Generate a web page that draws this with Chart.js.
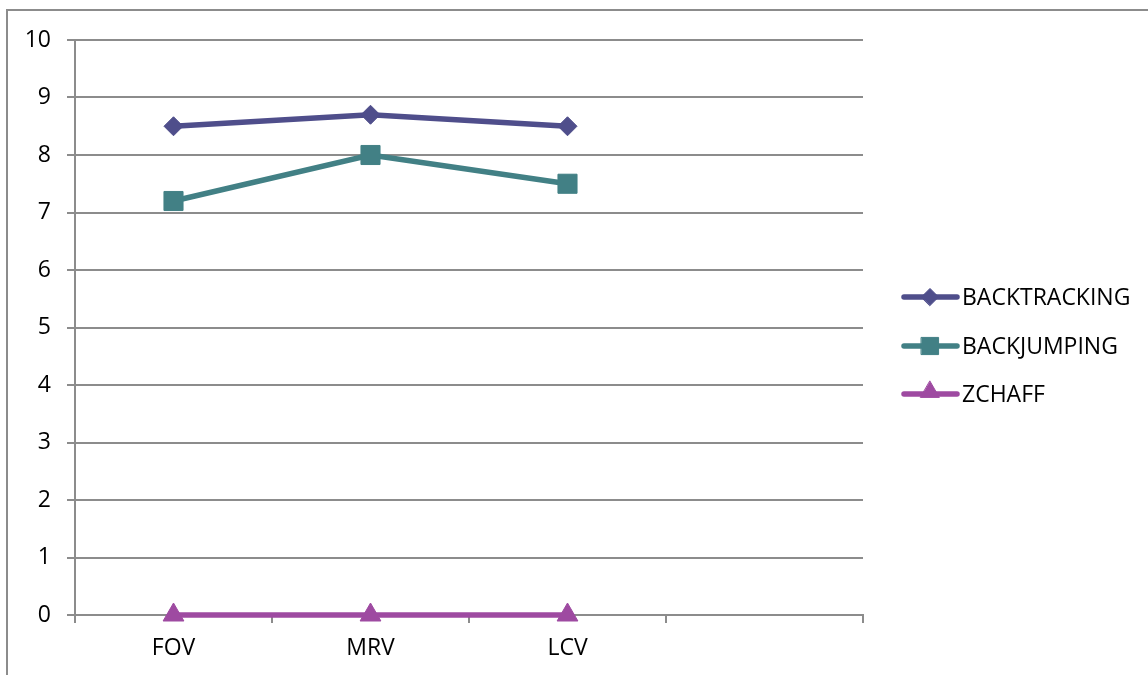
<!DOCTYPE html>
<html>
<head>
<meta charset="utf-8">
<style>
  html, body { margin: 0; padding: 0; background: #fff; }
  #wrap { width: 1148px; height: 675px; position: relative; }
</style>
<script src="https://cdn.jsdelivr.net/npm/chart.js"></script>
</head>
<body>
<div id="wrap"><canvas id="c" width="1148" height="675"></canvas></div>
<script>
// Categories (the fourth slot is an empty category on the axis)
const categories = ['FOV', 'MRV', 'LCV', ''];

// Series values
const backtracking = [8.5, 8.7, 8.5, null];
const backjumping = [7.2, 8.0, 7.5, null];
const zchaff = [0, 0, 0, null];

// Y axis ticks
const yMin = 0;
const yMax = 10;
const yStep = 1;

const FONT = '"Open Sans", "Noto Sans", sans-serif';
const FONT_SIZE = 23;
const GRID = '#8c8c8c';
const LINE_W = 5.5;

const seriesStyle = [
  { label: 'BACKTRACKING', data: backtracking, color: '#4f4e8b', pointStyle: 'rectRot', radius: 9.5 },
  { label: 'BACKJUMPING', data: backjumping, color: '#428085', pointStyle: 'rect', radius: 13.5 },
  { label: 'ZCHAFF', data: zchaff, color: '#9e4aa1', pointStyle: 'triangle', radius: 12 }
];

// Outer frame around the chart
const framePlugin = {
  id: 'frame',
  beforeDraw(chart) {
    const ctx = chart.ctx;
    ctx.save();
    ctx.fillStyle = '#fff';
    ctx.fillRect(0, 0, chart.width, chart.height);
    ctx.strokeStyle = '#8c8c8c';
    ctx.lineWidth = 2;
    ctx.strokeRect(7, 10, chart.width + 20, chart.height + 20);
    ctx.restore();
  }
};

// Legend on the right: a short line with the series marker, then the name
const sideLegend = {
  id: 'sideLegend',
  afterDraw(chart) {
    const ctx = chart.ctx;
    const x0 = 904, x1 = 957, xm = 930, xt = 962;
    const rows = [297, 346, 394];
    chart.data.datasets.forEach((ds, i) => {
      const y = rows[i];
      ctx.save();
      ctx.strokeStyle = ds.borderColor;
      ctx.fillStyle = ds.borderColor;
      ctx.lineWidth = LINE_W;
      ctx.lineCap = 'round';
      ctx.beginPath();
      ctx.moveTo(x0, y);
      ctx.lineTo(x1, y);
      ctx.stroke();
      ctx.lineWidth = 1;
      Chart.helpers.drawPoint(ctx, {
        pointStyle: ds.pointStyle,
        radius: ds.pointRadius * 0.9,
        rotation: 0,
        borderWidth: 1
      }, xm, ds.pointStyle === 'triangle' ? y - 2 : y);
      ctx.fillStyle = '#000';
      ctx.font = FONT_SIZE + 'px ' + FONT;
      ctx.textBaseline = 'middle';
      ctx.textAlign = 'left';
      ctx.fillText(ds.label, xt, y + 1);
      ctx.restore();
    });
  }
};

Chart.defaults.font.family = FONT;
Chart.defaults.color = '#000';

new Chart(document.getElementById('c'), {
  type: 'line',
  data: {
    labels: categories,
    datasets: seriesStyle.map(s => ({
      label: s.label,
      data: s.data,
      borderColor: s.color,
      backgroundColor: s.color,
      pointBackgroundColor: s.color,
      pointBorderColor: s.color,
      pointBorderWidth: 1,
      borderWidth: LINE_W,
      pointStyle: s.pointStyle,
      pointRadius: s.radius,
      pointHoverRadius: s.radius,
      tension: 0,
      clip: false,
      spanGaps: false
    }))
  },
  options: {
    responsive: false,
    animation: false,
    events: [],
    layout: { padding: { left: 0, right: 285, top: 40, bottom: 0 } },
    plugins: {
      legend: { display: false },
      tooltip: { enabled: false },
      title: { display: false }
    },
    scales: {
      x: {
        type: 'category',
        offset: true,
        grid: {
          offset: true,
          drawOnChartArea: false,
          drawTicks: true,
          tickLength: 8,
          color: GRID,
          lineWidth: 2
        },
        border: { color: GRID, width: 2 },
        ticks: {
          font: { size: FONT_SIZE, family: FONT },
          color: '#000',
          padding: 12,
          maxRotation: 0,
          autoSkip: false
        },
        afterFit(scale) { scale.height = 60; }
      },
      y: {
        min: yMin,
        max: yMax,
        grid: {
          color: GRID,
          lineWidth: 2,
          drawTicks: true,
          tickLength: 8
        },
        border: { color: GRID, width: 2 },
        ticks: {
          stepSize: yStep,
          font: { size: FONT_SIZE, family: FONT },
          color: '#000',
          padding: 16
        },
        afterFit(scale) { scale.width = 75; }
      }
    }
  },
  plugins: [framePlugin, sideLegend]
});
</script>
</body>
</html>
